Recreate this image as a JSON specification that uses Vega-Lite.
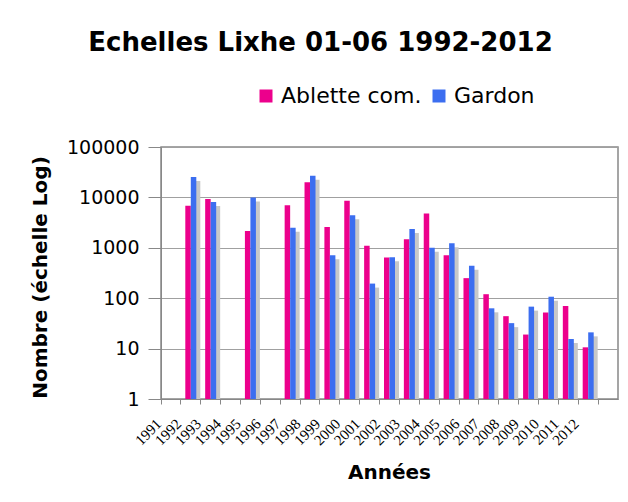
{
  "$schema": "https://vega.github.io/schema/vega-lite/v6.json",
  "width": 457,
  "height": 252,
  "autosize": "none",
  "padding": {"left": 161, "top": 147, "right": 10, "bottom": 103},
  "background": "white",
  "title": {
    "text": "Echelles Lixhe 01-06 1992-2012",
    "font": "DejaVu Sans",
    "fontSize": 26,
    "fontWeight": "bold",
    "color": "black",
    "anchor": "middle",
    "frame": "group",
    "dx": -69,
    "offset": 29
  },
  "config": {
    "view": {"stroke": "#888", "strokeWidth": 1.5},
    "font": "DejaVu Sans"
  },
  "data": {
    "values": [
      {"Year": "1992", "Series": "Ablette com.", "Count": 6800},
      {"Year": "1992", "Series": "Gardon", "Count": 25500},
      {"Year": "1993", "Series": "Ablette com.", "Count": 9300},
      {"Year": "1993", "Series": "Gardon", "Count": 8100},
      {"Year": "1995", "Series": "Ablette com.", "Count": 2150},
      {"Year": "1995", "Series": "Gardon", "Count": 9900},
      {"Year": "1997", "Series": "Ablette com.", "Count": 7000},
      {"Year": "1997", "Series": "Gardon", "Count": 2500},
      {"Year": "1998", "Series": "Ablette com.", "Count": 20000},
      {"Year": "1998", "Series": "Gardon", "Count": 27000},
      {"Year": "1999", "Series": "Ablette com.", "Count": 2600},
      {"Year": "1999", "Series": "Gardon", "Count": 710},
      {"Year": "2000", "Series": "Ablette com.", "Count": 8600},
      {"Year": "2000", "Series": "Gardon", "Count": 4400},
      {"Year": "2001", "Series": "Ablette com.", "Count": 1100},
      {"Year": "2001", "Series": "Gardon", "Count": 195},
      {"Year": "2002", "Series": "Ablette com.", "Count": 640},
      {"Year": "2002", "Series": "Gardon", "Count": 650},
      {"Year": "2003", "Series": "Ablette com.", "Count": 1480},
      {"Year": "2003", "Series": "Gardon", "Count": 2350},
      {"Year": "2004", "Series": "Ablette com.", "Count": 4800},
      {"Year": "2004", "Series": "Gardon", "Count": 1000},
      {"Year": "2005", "Series": "Ablette com.", "Count": 710},
      {"Year": "2005", "Series": "Gardon", "Count": 1230},
      {"Year": "2006", "Series": "Ablette com.", "Count": 250},
      {"Year": "2006", "Series": "Gardon", "Count": 440},
      {"Year": "2007", "Series": "Ablette com.", "Count": 120},
      {"Year": "2007", "Series": "Gardon", "Count": 63},
      {"Year": "2008", "Series": "Ablette com.", "Count": 44},
      {"Year": "2008", "Series": "Gardon", "Count": 32},
      {"Year": "2009", "Series": "Ablette com.", "Count": 19},
      {"Year": "2009", "Series": "Gardon", "Count": 68},
      {"Year": "2010", "Series": "Ablette com.", "Count": 52},
      {"Year": "2010", "Series": "Gardon", "Count": 107},
      {"Year": "2011", "Series": "Ablette com.", "Count": 70},
      {"Year": "2011", "Series": "Gardon", "Count": 15.5},
      {"Year": "2012", "Series": "Ablette com.", "Count": 10.6},
      {"Year": "2012", "Series": "Gardon", "Count": 21}
    ]
  },
  "encoding": {
    "x": {
      "field": "Year",
      "type": "nominal",
      "scale": {
        "domain": ["1991","1992","1993","1994","1995","1996","1997","1998","1999","2000","2001","2002","2003","2004","2005","2006","2007","2008","2009","2010","2011","2012","2013"],
        "paddingInner": 0,
        "paddingOuter": 0
      },
      "axis": {
        "title": "Années",
        "bandPosition": 0,
        "labelAngle": -45,
        "labelAlign": "right",
        "labelBaseline": "top",
        "labelFont": "Liberation Serif",
        "labelFontSize": 15,
        "labelColor": "black",
        "labelOverlap": false,
        "labelPadding": 12,
        "labelOffset": -17,
        "labelExpr": "datum.value == '2013' ? '' : datum.value",
        "tickSize": 5,
        "tickColor": "#888",
        "domainColor": "#888",
        "grid": false,
        "titleFont": "DejaVu Sans",
        "titleFontSize": 20,
        "titleFontWeight": "bold",
        "titleColor": "black",
        "titleX": 228,
        "titleY": 73,
        "titleAlign": "center",
        "titleBaseline": "middle"
      }
    },
    "y": {
      "field": "Count",
      "type": "quantitative",
      "scale": {"type": "log", "domain": [1, 100000]},
      "axis": {
        "title": "Nombre (échelle Log)",
        "values": [1, 10, 100, 1000, 10000, 100000],
        "format": "d",
        "labelFont": "DejaVu Sans",
        "labelFontSize": 19,
        "labelColor": "black",
        "labelPadding": 9,
        "tickSize": 13,
        "tickColor": "#888",
        "domainColor": "#888",
        "gridColor": "#a0a0a0",
        "titleFont": "DejaVu Sans",
        "titleFontSize": 20,
        "titleFontWeight": "bold",
        "titleColor": "black",
        "titleAngle": -90,
        "titleX": -121,
        "titleY": 130,
        "titleAlign": "center",
        "titleBaseline": "middle"
      }
    },
    "y2": {"datum": 1}
  },
  "layer": [
    {
      "transform": [{"filter": "datum.Series == 'Gardon'"}],
      "mark": {"type": "bar", "color": "#c8c8c8", "width": 5.5, "xOffset": 6.75, "yOffset": 4, "clip": true}
    },
    {
      "transform": [{"filter": "datum.Series == 'Ablette com.'"}],
      "mark": {"type": "bar", "width": 5.5, "xOffset": -2.75},
      "encoding": {
        "color": {
          "field": "Series",
          "type": "nominal",
          "scale": {"domain": ["Ablette com.", "Gardon"], "range": ["#EC008C", "#3C6EF0"]},
          "legend": {
            "title": null,
            "orient": "none",
            "legendX": 94,
            "legendY": -62,
            "direction": "horizontal",
            "symbolType": "square",
            "symbolSize": 169,
            "symbolStrokeWidth": 0,
            "labelFont": "DejaVu Sans",
            "labelFontSize": 22,
            "labelColor": "black",
            "labelOffset": 4,
            "columnPadding": 6,
            "padding": 0
          }
        }
      }
    },
    {
      "transform": [{"filter": "datum.Series == 'Gardon'"}],
      "mark": {"type": "bar", "width": 5.5, "xOffset": 2.75},
      "encoding": {
        "color": {
          "field": "Series",
          "type": "nominal",
          "scale": {"domain": ["Ablette com.", "Gardon"], "range": ["#EC008C", "#3C6EF0"]}
        }
      }
    }
  ]
}
